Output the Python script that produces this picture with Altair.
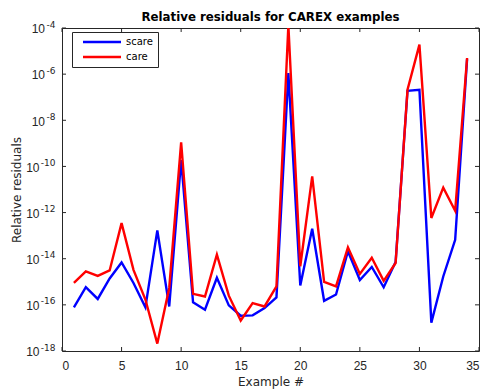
import altair as alt
import pandas as pd

examples = list(range(1, 35))
scare = [7.8e-17, 5.8e-16, 1.8e-16, 1.4e-15, 6.9e-15, 8.9e-16, 7.8e-17, 1.7e-13, 8.5e-17, 1.9e-10,
         1.3e-16, 6.2e-17, 1.5e-15, 9.5e-17, 3.4e-17, 3.5e-17, 7.2e-17, 2.1e-16, 1.1e-6, 6.9e-16,
         2.0e-13, 1.5e-16, 2.8e-16, 2.1e-14, 1.2e-15, 4.4e-15, 5.8e-16, 7.2e-15, 1.9e-7, 2.1e-7,
         1.7e-17, 1.7e-15, 6.6e-14, 4.5e-6]
care = [8.9e-16, 2.8e-15, 1.8e-15, 3.1e-15, 3.5e-13, 3.3e-15, 1.7e-16, 2.1e-18, 5.4e-16, 1.1e-9,
        3.0e-16, 2.3e-16, 1.5e-14, 2.5e-16, 2.1e-17, 1.2e-16, 8.5e-17, 6.3e-16, 1.3e-4, 4.7e-15,
        3.7e-11, 9.8e-16, 6.3e-16, 3.1e-14, 2.2e-15, 1.1e-14, 1.1e-15, 6.5e-15, 2.1e-7, 1.9e-5,
        5.8e-13, 1.2e-11, 1.2e-12, 5.0e-6]
series_names = ["scare", "care"]
series_colors = ["#0000ff", "#ff0000"]
x_ticks = [0, 5, 10, 15, 20, 25, 30, 35]
y_ticks = [1e-18, 1e-16, 1e-14, 1e-12, 1e-10, 1e-8, 1e-6, 1e-4]
y_tick_exponents = ["-18", "-16", "-14", "-12", "-10", "-8", "-6", "-4"]

W, H = 417, 323
FONT = "Liberation Sans"
FONT2 = "DejaVu Sans"
AX = "#262626"

df = pd.DataFrame({
    "Example": examples * 2,
    "Residual": scare + care,
    "Method": ["scare"] * len(scare) + ["care"] * len(care),
})
xt = pd.DataFrame({"x": x_ticks})
yt = pd.DataFrame({"y": y_ticks, "exp": y_tick_exponents,
                   "long": [len(e) > 2 for e in y_tick_exponents]})

x_scale = alt.Scale(domain=[0, 35], nice=False, zero=False)
y_scale = alt.Scale(type="log", domain=[1e-18, 1e-4], nice=False)
x_axis = alt.Axis(values=x_ticks, title="Example #", grid=False, domain=False, tickSize=0,
                  labelPadding=9, titlePadding=5, labelFontSize=12, titleFontSize=12,
                  labelColor=AX, titleColor=AX, titleFontWeight="normal", labelFont=FONT, titleFont=FONT2)
y_axis = alt.Axis(values=y_ticks, title="Relative residuals", grid=False, domain=False, tickSize=0,
                  labels=False, titlePadding=38, titleFontSize=12,
                  titleColor=AX, titleFontWeight="normal", titleFont=FONT2)

color = alt.Color("Method:N", scale=alt.Scale(domain=series_names, range=series_colors),
                  legend=alt.Legend(title=None, orient="none", legendX=10, legendY=4,
                                    symbolType="M0.5,0H19.5", symbolSize=16, symbolStrokeWidth=2.5,
                                    labelFontSize=10, labelFont=FONT2, labelColor="black",
                                    strokeColor=AX, fillColor="white", padding=5,
                                    rowPadding=5, labelOffset=39))

def series_layer(name):
    return alt.Chart(df).transform_filter(alt.datum.Method == name).mark_line(
        strokeWidth=2.4, clip=True).encode(
        x=alt.X("Example:Q", scale=x_scale, axis=x_axis),
        y=alt.Y("Residual:Q", scale=y_scale, axis=y_axis),
        color=color,
    )

xb = alt.Chart(xt).mark_rule(color=AX, strokeWidth=1).encode(
    x=alt.X("x:Q", scale=x_scale, axis=x_axis), y=alt.value(H), y2=alt.value(H - 4))
xtp = alt.Chart(xt).mark_rule(color=AX, strokeWidth=1).encode(
    x=alt.X("x:Q", scale=x_scale, axis=x_axis), y=alt.value(0), y2=alt.value(4))
yl = alt.Chart(yt).mark_rule(color=AX, strokeWidth=1).encode(
    y=alt.Y("y:Q", scale=y_scale, axis=y_axis), x=alt.value(0), x2=alt.value(4))
yr = alt.Chart(yt).mark_rule(color=AX, strokeWidth=1).encode(
    y=alt.Y("y:Q", scale=y_scale, axis=y_axis), x=alt.value(W), x2=alt.value(W - 4))

# y tick labels: "10" with superscript exponent
exp_txt = alt.Chart(yt).mark_text(align="right", baseline="alphabetic", dy=-0.5, fontSize=9,
                                  font=FONT2, color=AX).encode(
    y=alt.Y("y:Q", scale=y_scale, axis=y_axis), x=alt.value(-6.5), text="exp:N")
base_long = alt.Chart(yt).transform_filter("datum.long").mark_text(
    align="right", baseline="alphabetic", dy=5.3, fontSize=12, font=FONT, color=AX, text="10").encode(
    y=alt.Y("y:Q", scale=y_scale, axis=y_axis), x=alt.value(-22.5))
base_short = alt.Chart(yt).transform_filter("!datum.long").mark_text(
    align="right", baseline="alphabetic", dy=5.3, fontSize=12, font=FONT, color=AX, text="10").encode(
    y=alt.Y("y:Q", scale=y_scale, axis=y_axis), x=alt.value(-17))

chart = alt.layer(xb, xtp, yl, yr, exp_txt, base_long, base_short,
                  series_layer("scare"), series_layer("care")).properties(
    width=W, height=H,
    title=alt.TitleParams("Relative residuals for CAREX examples", fontSize=11.8, fontWeight="bold",
                          font=FONT2, color="black", anchor="middle", offset=0, dy=3),
    autosize=alt.AutoSizeParams(type="none"),
    padding={"left": 62, "top": 28, "right": 6, "bottom": 41},
    background="white",
).configure_view(stroke=AX, strokeWidth=1)

chart.save("out.html", embed_options={"renderer": "svg", "actions": False})
